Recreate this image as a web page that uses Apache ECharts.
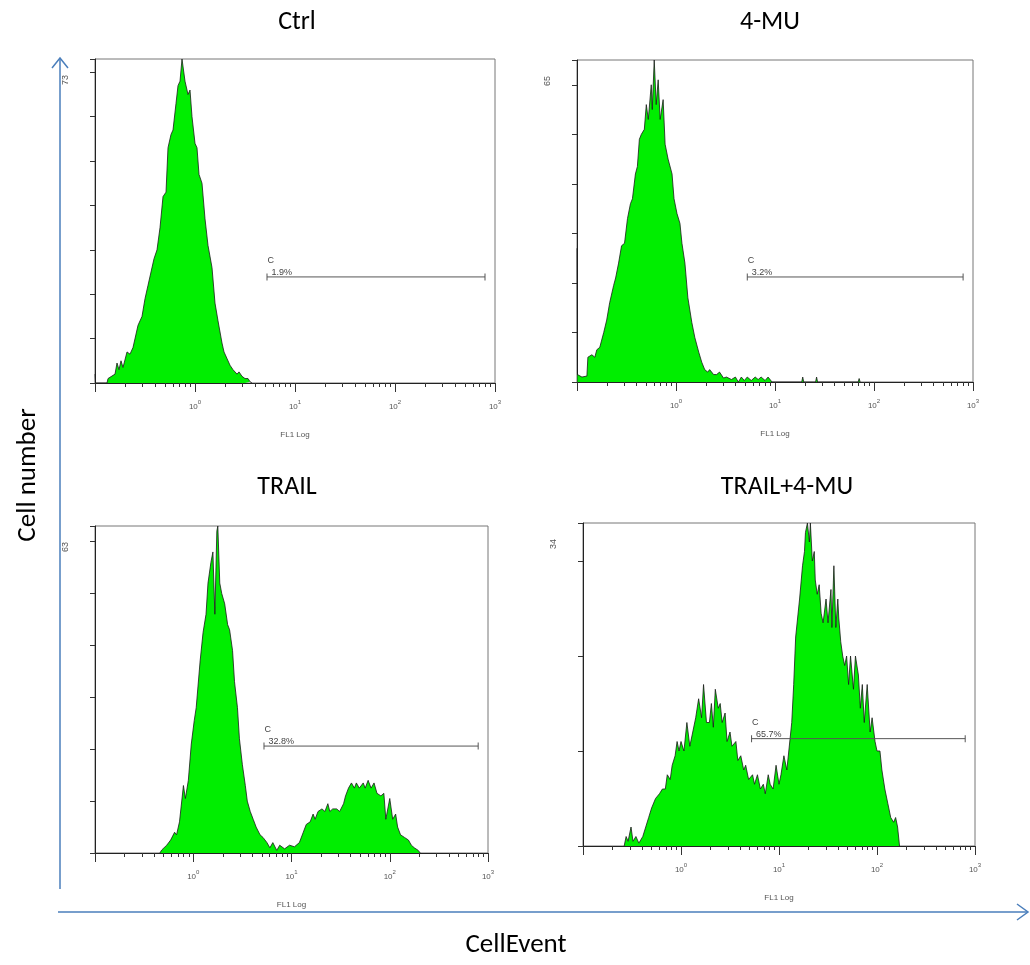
<!DOCTYPE html>
<html>
<head>
<meta charset="utf-8">
<title>CellEvent histograms</title>
<script src="https://cdn.jsdelivr.net/npm/echarts@6/dist/echarts.min.js"></script>
<style>
  html, body { margin: 0; padding: 0; background: #fff; }
  #chart { width: 1030px; height: 965px; }
</style>
</head>
<body>
<div id="chart"></div>
<script>
// panel names, y-axis maxima, gate readouts
var titles = ['Ctrl', '4-MU', 'TRAIL', 'TRAIL+4-MU'];
var yMax = [73, 65, 63, 34];
var gateName = ['C', 'C', 'C', 'C'];
var gatePct = ['1.9%', '3.2%', '32.8%', '65.7%'];
var gateCount = [23.9, 21.2, 20.6, 11.3];
var gateFrom = 0.72, gateTo = 2.9;   // log10 FL1

// x axis: log10 decades with labels 10^0..10^3 and minor ticks 2..9
var decades = [0, 1, 2, 3];
var minorSteps = [2, 3, 4, 5, 6, 7, 8, 9];

// histograms: [log10 FL1, cell count]
var ctrlHist = [[-1.00,2],[-0.995,0],[-0.88,0],[-0.87,1],[-0.80,2],[-0.78,4.5],[-0.76,3],[-0.74,5],[-0.72,3.5],
  [-0.68,7],[-0.65,6.5],[-0.62,8],[-0.57,13],[-0.53,15],[-0.50,19],[-0.47,22],[-0.45,22],[-0.41,28],[-0.38,30],
  [-0.35,35],[-0.32,42],[-0.29,43],[-0.27,53],[-0.24,56],[-0.22,57],[-0.19,63],[-0.17,67],[-0.15,68],[-0.13,73],
  [-0.10,68],[-0.07,65],[-0.05,66],[-0.03,60],[0.00,54],[0.02,53],[0.04,47],[0.07,45],[0.10,37],[0.13,31],
  [0.17,26],[0.20,18],[0.23,14],[0.27,9],[0.29,7],[0.32,5.5],[0.35,4],[0.38,3],[0.42,2],[0.44,2.5],[0.47,1.5],
  [0.50,1],[0.53,1],[0.55,0.3],[0.57,0]];

var muHist = [[-1.00,27],[-0.995,1.5],[-0.95,1],[-0.90,1.2],[-0.89,5],[-0.85,5.5],[-0.82,5],[-0.80,6.5],[-0.77,7],
  [-0.73,10],[-0.70,12.5],[-0.67,16],[-0.63,19.5],[-0.61,21],[-0.58,24],[-0.55,27.5],[-0.52,28],[-0.49,33],
  [-0.46,36],[-0.44,37],[-0.41,42],[-0.39,43.5],[-0.37,49],[-0.35,50],[-0.32,51],[-0.30,56],[-0.28,53],[-0.25,60],
  [-0.24,55],[-0.22,65],[-0.20,56],[-0.18,61],[-0.16,53],[-0.13,57],[-0.11,48],[-0.08,45],[-0.04,42],[-0.02,37],
  [0.01,34],[0.04,32],[0.06,28],[0.09,24],[0.12,17],[0.16,12],[0.19,9],[0.23,6],[0.26,4],[0.29,2.5],[0.32,2],
  [0.34,2.5],[0.38,1.5],[0.41,1.5],[0.44,2],[0.48,0.8],[0.51,1],[0.56,0.5],[0.60,1],[0.63,0],[0.66,1],[0.69,0.3],
  [0.72,1],[0.76,0.3],[0.80,1],[0.83,0.5],[0.86,1],[0.90,0.3],[0.93,1],[0.97,0],[1.27,0],[1.28,1],[1.29,0],
  [1.41,0],[1.42,1],[1.43,0],[1.84,0],[1.85,0.7],[1.86,0]];

var trailHist = [[-0.34,0],[-0.32,0.6],[-0.27,1.5],[-0.23,2.5],[-0.19,4],[-0.17,3.5],[-0.14,6],[-0.10,13],[-0.08,10.5],
  [-0.05,14],[-0.02,21],[0.01,25.5],[0.03,28],[0.07,37],[0.10,42.5],[0.13,46],[0.15,52],[0.18,56],[0.20,58],
  [0.22,46],[0.24,62],[0.25,63],[0.27,52],[0.29,50],[0.32,48],[0.35,44],[0.37,43],[0.40,39],[0.42,33],[0.45,28],
  [0.47,22],[0.50,17],[0.53,13],[0.55,10],[0.58,8],[0.61,6.5],[0.64,5],[0.68,3.5],[0.71,3],[0.75,2],[0.78,1],
  [0.81,2],[0.85,0.5],[0.88,1.5],[0.93,0.8],[0.98,1.5],[1.03,1.2],[1.08,2],[1.12,4],[1.15,5.5],[1.19,6],[1.22,7.5],
  [1.24,6.5],[1.27,8],[1.31,8.5],[1.34,8],[1.37,9.5],[1.39,8],[1.42,8.5],[1.46,8.5],[1.49,8],[1.53,9.5],[1.55,11],
  [1.58,12.5],[1.61,13.5],[1.64,12.5],[1.66,13.5],[1.69,12.5],[1.73,13.5],[1.75,12.5],[1.78,14],[1.81,12.5],
  [1.84,13.5],[1.87,11.5],[1.91,11],[1.94,11.5],[1.96,6.5],[2.00,10.5],[2.03,6.5],[2.06,7.5],[2.08,5],[2.11,3.5],
  [2.15,3],[2.19,2.5],[2.22,1.5],[2.25,1],[2.29,0.5],[2.31,0]];

var comboHist = [[-0.58,0],[-0.56,1],[-0.54,0.5],[-0.51,2],[-0.49,0.5],[-0.46,1],[-0.43,0.3],[-0.39,1],[-0.36,2],
  [-0.33,3],[-0.30,4],[-0.28,4],[-0.26,5],[-0.22,5.5],[-0.19,6],[-0.16,6],[-0.14,7.5],[-0.11,7],[-0.09,8.5],
  [-0.06,9.5],[-0.04,11],[-0.02,10],[0.00,11],[0.03,10],[0.06,13],[0.09,10.5],[0.12,12],[0.15,13.5],[0.18,15.5],
  [0.21,13.5],[0.23,17],[0.26,13],[0.29,13],[0.31,15],[0.33,12.5],[0.35,16.5],[0.38,14.5],[0.40,15],[0.42,13],
  [0.45,14],[0.47,11],[0.50,12],[0.52,10.5],[0.56,11],[0.58,9],[0.61,9.5],[0.64,8],[0.66,8.5],[0.69,7],[0.73,7.5],
  [0.75,6.5],[0.78,7.5],[0.81,6],[0.84,6.5],[0.86,5.5],[0.89,7.5],[0.91,6.5],[0.94,6],[0.97,8.5],[1.00,6.5],
  [1.02,7.5],[1.05,9.5],[1.08,8],[1.10,10],[1.13,13],[1.15,17],[1.17,22],[1.19,24],[1.21,26],[1.24,29.5],[1.26,31],
  [1.27,33],[1.29,34],[1.31,32],[1.32,34],[1.34,30],[1.36,31],[1.37,28],[1.39,26.5],[1.41,27.5],[1.43,24.5],
  [1.45,23.5],[1.48,26],[1.50,23.5],[1.53,27],[1.54,23],[1.56,29.5],[1.58,23],[1.60,26],[1.61,24],[1.63,21.5],
  [1.65,20],[1.67,19],[1.69,20],[1.71,17],[1.73,20],[1.76,16.5],[1.78,20],[1.81,18],[1.83,14.5],[1.85,17],[1.87,13],
  [1.90,17],[1.93,12],[1.95,13.5],[1.98,11],[2.00,10],[2.03,10],[2.05,8],[2.08,6],[2.11,4.5],[2.14,3],[2.17,2.5],
  [2.19,3],[2.21,2],[2.23,0]];

var hists = [ctrlHist, muHist, trailHist, comboHist];

// layout
var boxes = [
  { left: 95,  top: 59,  width: 400, height: 324 },
  { left: 577, top: 60,  width: 396, height: 322 },
  { left: 95,  top: 526, width: 393, height: 327 },
  { left: 583, top: 523, width: 392, height: 323 }
];
var titlePos = [[297, 22], [770, 22], [287, 487], [787, 487]];
var bigFont = 'Carlito, Lato, "Open Sans", sans-serif';
var smallFont = '"Liberation Sans", Arial, sans-serif';
var arrowColor = '#4a7ebb';

var minorVals = [];
[-1, 0, 1, 2].forEach(function (d) {
  minorSteps.forEach(function (m) { minorVals.push(d + Math.log10(m)); });
});

var grids = [], xAxes = [], yAxes = [], series = [], graphics = [];

for (var i = 0; i < 4; i++) {
  var b = boxes[i];
  grids.push({ left: b.left, top: b.top, width: b.width, height: b.height,
    show: true, borderColor: '#777', borderWidth: 1 });

  xAxes.push({
    type: 'value', gridIndex: i, position: 'bottom', min: -1, max: 3, interval: 1,
    axisLine: { onZero: false, lineStyle: { color: '#222', width: 1 } },
    axisTick: { length: 9, lineStyle: { color: '#333' } },
    axisLabel: {
      margin: 16, color: '#555',
      formatter: function (v) { return decades.indexOf(v) < 0 ? '' : '{b|10}{s|' + v + '}'; },
      rich: {
        b: { fontSize: 8, fontFamily: smallFont, color: '#555', lineHeight: 12, verticalAlign: 'bottom' },
        s: { fontSize: 6, fontFamily: smallFont, color: '#555', lineHeight: 6, verticalAlign: 'top' }
      }
    },
    splitLine: { show: false },
    name: 'FL1 Log', nameLocation: 'middle', nameGap: 48,
    nameTextStyle: { fontSize: 8, color: '#555', fontFamily: smallFont }
  });
  xAxes.push({
    type: 'value', gridIndex: i, position: 'bottom', min: -1, max: 3,
    axisLine: { show: false, onZero: false },
    axisTick: { show: true, length: 4, customValues: minorVals, lineStyle: { color: '#333' } },
    axisLabel: { show: false },
    splitLine: { show: false }
  });

  yAxes.push({
    type: 'value', gridIndex: i, position: 'left', min: 0, max: yMax[i], interval: 10,
    axisLine: { show: true, onZero: false, lineStyle: { color: '#222' } },
    axisTick: { show: true, length: 5, lineStyle: { color: '#333' } },
    axisLabel: { show: false },
    splitLine: { show: false }
  });

  series.push({
    type: 'line', xAxisIndex: 2 * i, yAxisIndex: i, data: hists[i],
    symbol: 'none', silent: true, z: 2,
    lineStyle: { color: '#1a1a1a', width: 0.8 },
    areaStyle: { color: '#00ee00', opacity: 1 }
  });

  series.push({
    type: 'line', xAxisIndex: 2 * i, yAxisIndex: i, z: 5, silent: true,
    symbol: 'rect', symbolSize: [1, 7],
    lineStyle: { color: '#555', width: 1 }, itemStyle: { color: '#555' },
    data: [
      { value: [gateFrom, gateCount[i]],
        label: { show: true, position: [1, -19.5], formatter: '{c|' + gateName[i] + '}\n{p|' + gatePct[i] + '}',
          rich: {
            c: { fontSize: 9, color: '#444', fontFamily: smallFont, lineHeight: 13 },
            p: { fontSize: 9, color: '#444', fontFamily: smallFont, lineHeight: 11, padding: [0, 0, 0, 4] }
          } } },
      { value: [gateTo, gateCount[i]] }
    ]
  });

  graphics.push({
    type: 'text', x: titlePos[i][0], y: titlePos[i][1],
    style: { text: titles[i], fontSize: 26, fontFamily: bigFont, fill: '#000', align: 'center', verticalAlign: 'middle' }
  });
  graphics.push({
    type: 'text', x: b.left - 29, y: b.top + 21, rotation: Math.PI / 2,
    style: { text: String(yMax[i]), fontSize: 9, fontFamily: smallFont, fill: '#555', align: 'center', verticalAlign: 'middle' }
  });
}

// framing arrows and outer labels
graphics.push(
  { type: 'line', shape: { x1: 60, y1: 889, x2: 60, y2: 58 }, style: { stroke: arrowColor, lineWidth: 1.5 } },
  { type: 'polyline', shape: { points: [[52, 68], [60, 58], [68, 68]] }, style: { stroke: arrowColor, lineWidth: 1.5, fill: null } },
  { type: 'line', shape: { x1: 58, y1: 912, x2: 1028, y2: 912 }, style: { stroke: arrowColor, lineWidth: 1.5 } },
  { type: 'polyline', shape: { points: [[1017, 904], [1028, 912], [1017, 920]] }, style: { stroke: arrowColor, lineWidth: 1.5, fill: null } },
  { type: 'text', x: 28, y: 475, rotation: Math.PI / 2,
    style: { text: 'Cell number', fontSize: 27, fontFamily: bigFont, fill: '#000', align: 'center', verticalAlign: 'middle' } },
  { type: 'text', x: 516, y: 945,
    style: { text: 'CellEvent', fontSize: 27, fontFamily: bigFont, fill: '#000', align: 'center', verticalAlign: 'middle' } }
);

var chart = echarts.init(document.getElementById('chart'), null, { renderer: 'canvas' });
chart.setOption({
  animation: false,
  backgroundColor: '#fff',
  grid: grids,
  xAxis: xAxes,
  yAxis: yAxes,
  series: series,
  graphic: graphics
});
</script>
</body>
</html>
